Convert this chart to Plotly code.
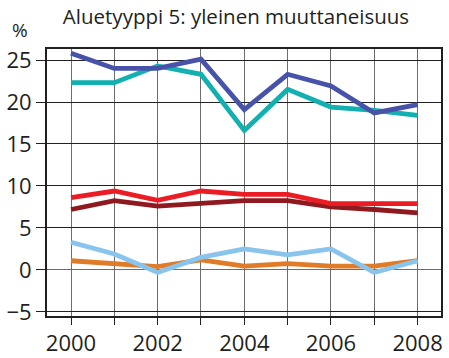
import plotly.graph_objects as go

years = [2000, 2001, 2002, 2003, 2004, 2005, 2006, 2007, 2008]

navy_series = [25.8, 24.0, 24.0, 25.1, 19.1, 23.3, 21.9, 18.7, 19.7]
teal_series = [22.3, 22.3, 24.3, 23.3, 16.6, 21.5, 19.4, 19.0, 18.4]
red_series = [8.6, 9.4, 8.3, 9.4, 9.0, 9.0, 7.9, 7.9, 7.9]
darkred_series = [7.2, 8.25, 7.6, 7.9, 8.25, 8.25, 7.5, 7.2, 6.8]
skyblue_series = [3.3, 1.9, -0.3, 1.5, 2.5, 1.8, 2.5, -0.3, 1.1]
orange_series = [1.1, 0.75, 0.4, 1.2, 0.45, 0.75, 0.45, 0.45, 1.1]

x_tick_vals = [2000, 2002, 2004, 2006, 2008]
y_tick_vals = [-5, 0, 5, 10, 15, 20, 25]

FONT = "Open Sans"
INK = "#231f20"

series = [
    (orange_series, "#e07b28"),
    (skyblue_series, "#88c4ec"),
    (darkred_series, "#8e1a20"),
    (red_series, "#ec1c24"),
    (teal_series, "#12b0b0"),
    (navy_series, "#4653a8"),
]

fig = go.Figure()
for values, color in series:
    fig.add_trace(go.Scatter(
        x=years, y=values, mode="lines",
        line=dict(color=color, width=4.8),
        showlegend=False, hoverinfo="skip",
    ))

fig.update_layout(
    width=449, height=358,
    margin=dict(l=47, r=8, t=49, b=42, autoexpand=False),
    paper_bgcolor="white", plot_bgcolor="white",
    font=dict(family=FONT, color=INK),
    title=dict(
        text="Aluetyyppi 5: yleinen muuttaneisuus",
        x=0.5256, xanchor="center", y=0.952, yanchor="middle",
        font=dict(size=20.5, family=FONT, color=INK),
    ),
)

fig.update_xaxes(
    range=[1999.446, 2008.54], automargin=False,
    tickmode="array", tickvals=years,
    ticktext=[str(y) if y in x_tick_vals else "" for y in years],
    ticks="outside", ticklen=7, tickwidth=1, tickcolor=INK,
    showgrid=True, gridcolor="#6d6d6d", gridwidth=1,
    showline=True, linecolor=INK, linewidth=2, mirror=True,
    tickfont=dict(size=22, family=FONT, color=INK),
    zeroline=False,
)
fig.update_yaxes(
    range=[-5.48, 26.31], automargin=False,
    tickmode="array", tickvals=y_tick_vals,
    ticks="outside", ticklen=9, tickwidth=1, tickcolor=INK,
    showgrid=True, gridcolor=INK, gridwidth=1,
    showline=True, linecolor=INK, linewidth=2, mirror=True,
    tickfont=dict(size=22, family=FONT, color=INK),
    zeroline=True, zerolinecolor="#6d6d6d", zerolinewidth=1,
)

fig.add_annotation(
    text="%", xref="paper", yref="paper",
    x=-0.068, y=1.072, xanchor="center", yanchor="middle",
    showarrow=False, font=dict(size=19, family=FONT, color=INK),
)

fig.write_html("out.html")
